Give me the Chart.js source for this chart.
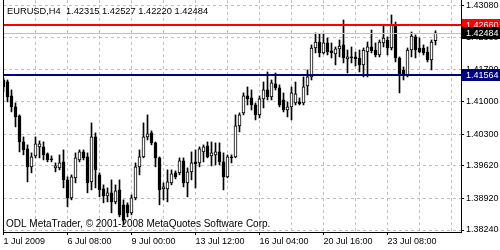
<!DOCTYPE html>
<html>
<head>
<meta charset="utf-8">
<script src="https://cdn.jsdelivr.net/npm/chart.js@4.4.0/dist/chart.umd.min.js"></script>
<style>
    html, body { margin: 0; padding: 0; background: #fff; }
</style>
</head>
<body>
<canvas id="eurusdChart" width="500" height="250"></canvas>
<script>
// EURUSD H4 candles, oldest first (1 Jul 20:00 .. 24 Jul)
const opens = [1.41468, 1.41425, 1.41124, 1.40888, 1.40694, 1.40135, 1.39985, 1.39598, 1.39834, 1.40028,
    1.40028, 1.39877, 1.39770, 1.39576, 1.39576, 1.39705, 1.39318, 1.38931, 1.39361, 1.39748,
    1.39920, 1.39813, 1.39275, 1.40243, 1.39426, 1.39125, 1.38974, 1.39039, 1.38845, 1.39103,
    1.38781, 1.38781, 1.38609, 1.38931, 1.39598, 1.39813, 1.40243, 1.40329, 1.40114, 1.39791,
    1.39125, 1.39125, 1.39254, 1.39469, 1.39469, 1.39727, 1.39254, 1.39490, 1.39705, 1.39684,
    1.39920, 1.40049, 1.39834, 1.39856, 1.39920, 1.39705, 1.39383, 1.39813, 1.39813, 1.40479,
    1.40759, 1.41124, 1.41081, 1.40931, 1.40716, 1.41060, 1.41253, 1.41103, 1.41382, 1.41296,
    1.41038, 1.40823, 1.40888, 1.40974, 1.40995, 1.40974, 1.41339, 1.41533, 1.42156, 1.42285,
    1.42049, 1.42264, 1.42092, 1.42027, 1.42135, 1.42221, 1.41920, 1.41963, 1.41963, 1.41941,
    1.41791, 1.42070, 1.42178, 1.42113, 1.42006, 1.42264, 1.42328, 1.42156, 1.42651, 1.41941,
    1.41683, 1.41576, 1.42113, 1.42393, 1.42156, 1.42156, 1.42070, 1.41898, 1.42315];
const highs = [1.41511, 1.41468, 1.41253, 1.40974, 1.40716, 1.40243, 1.40071, 1.39899, 1.40243, 1.40157,
    1.40135, 1.39899, 1.39834, 1.39684, 1.39856, 1.39963, 1.39383, 1.39426, 1.39899, 1.39963,
    1.39963, 1.39899, 1.40544, 1.40329, 1.39469, 1.39211, 1.39146, 1.39318, 1.39211, 1.39318,
    1.38888, 1.38824, 1.38996, 1.39684, 1.39963, 1.40544, 1.40716, 1.40372, 1.40135, 1.39813,
    1.39254, 1.39533, 1.39533, 1.39512, 1.39791, 1.39791, 1.39576, 1.39920, 1.39963, 1.40028,
    1.40071, 1.40135, 1.40135, 1.40114, 1.40114, 1.39899, 1.39856, 1.39856, 1.40716, 1.40759,
    1.41189, 1.41318, 1.41253, 1.40974, 1.41124, 1.41425, 1.41640, 1.41468, 1.41619, 1.41361,
    1.41189, 1.40995, 1.41318, 1.41425, 1.41081, 1.41533, 1.41683, 1.42221, 1.42479, 1.42457,
    1.42457, 1.42371, 1.42264, 1.42178, 1.42328, 1.42758, 1.42113, 1.42178, 1.42070, 1.42113,
    1.42156, 1.42285, 1.42543, 1.42264, 1.42328, 1.42651, 1.42393, 1.42866, 1.42715, 1.41963,
    1.41748, 1.42156, 1.42500, 1.42436, 1.42371, 1.42221, 1.42178, 1.42328, 1.42527];
const lows = [1.41210, 1.40995, 1.40780, 1.40458, 1.39920, 1.39856, 1.39275, 1.39469, 1.39791, 1.39791,
    1.39748, 1.39705, 1.39705, 1.39490, 1.39533, 1.39146, 1.38738, 1.38888, 1.39254, 1.39705,
    1.39748, 1.39039, 1.39103, 1.39146, 1.38953, 1.38824, 1.38845, 1.38609, 1.38802, 1.38523,
    1.38351, 1.38523, 1.38566, 1.38888, 1.39426, 1.39791, 1.40178, 1.40071, 1.39598, 1.38781,
    1.38888, 1.38845, 1.39211, 1.39340, 1.39426, 1.39168, 1.38953, 1.39318, 1.39146, 1.39598,
    1.39705, 1.39791, 1.39619, 1.39641, 1.39641, 1.39103, 1.39361, 1.39684, 1.39791, 1.40350,
    1.40716, 1.40931, 1.40823, 1.40608, 1.40651, 1.40866, 1.41038, 1.41038, 1.41253, 1.40888,
    1.40780, 1.40673, 1.40608, 1.40931, 1.40931, 1.40931, 1.41146, 1.41468, 1.42049, 1.41963,
    1.42027, 1.42006, 1.41941, 1.41791, 1.41963, 1.41834, 1.41619, 1.41834, 1.41769, 1.41640,
    1.41533, 1.41533, 1.42049, 1.41963, 1.41963, 1.42178, 1.42006, 1.42113, 1.41855, 1.41189,
    1.41468, 1.41533, 1.41963, 1.41941, 1.42049, 1.42006, 1.41855, 1.41683, 1.42220];
const closes = [1.41318, 1.41103, 1.40888, 1.40673, 1.40135, 1.39963, 1.39598, 1.39813, 1.40092, 1.40092,
    1.39856, 1.39748, 1.39748, 1.39619, 1.39684, 1.39318, 1.38931, 1.39383, 1.39791, 1.39920,
    1.39791, 1.39254, 1.40243, 1.39533, 1.39103, 1.38974, 1.39039, 1.38845, 1.39082, 1.38566,
    1.38458, 1.38609, 1.38931, 1.39598, 1.39813, 1.40243, 1.40307, 1.40114, 1.39791, 1.39103,
    1.39168, 1.39275, 1.39447, 1.39383, 1.39727, 1.39254, 1.39490, 1.39684, 1.39662, 1.39985,
    1.40028, 1.39813, 1.39899, 1.39920, 1.39705, 1.39383, 1.39813, 1.39791, 1.40479, 1.40716,
    1.41124, 1.41060, 1.40931, 1.40716, 1.41060, 1.41253, 1.41103, 1.41404, 1.41296, 1.40931,
    1.40823, 1.40888, 1.41189, 1.41167, 1.40952, 1.41318, 1.41533, 1.42156, 1.42285, 1.42049,
    1.42264, 1.42070, 1.42049, 1.42135, 1.42199, 1.41941, 1.41963, 1.41941, 1.41920, 1.41791,
    1.42113, 1.42178, 1.42092, 1.42006, 1.42285, 1.42371, 1.42156, 1.42651, 1.41941, 1.41576,
    1.41576, 1.42113, 1.42414, 1.42113, 1.42070, 1.42049, 1.41898, 1.42285, 1.42484];

// axis ticks
const priceTicks = [1.38240, 1.38920, 1.39620, 1.40300, 1.41000, 1.41700, 1.42380, 1.43080];
const gridBars = [0, 8, 16, 24, 32, 40, 48, 56, 64, 72, 80, 88, 96, 104, 112];
const labelBars = [0, 16, 32, 48, 64, 80, 96];
const timeLabels = ['1 Jul 2009', '6 Jul 08:00', '9 Jul 00:00', '13 Jul 12:00', '16 Jul 04:00', '20 Jul 16:00', '23 Jul 08:00'];

// horizontal lines drawn on the chart
const resistance = 1.42660;
const support = 1.41564;

const headerText = 'EURUSD,H4  1.42315 1.42527 1.42220 1.42484';
const footerText = 'ODL MetaTrader, \u00A9 2001-2008 MetaQuotes Software Corp.';

const FAMILY = '"Liberation Sans", Arial, sans-serif';
const FONT = '9px ' + FAMILY;
const GRID = '#c0c0c0';

document.addEventListener('DOMContentLoaded', function() {
    if (typeof Chart === 'undefined') {
        console.error('Chart.js is not loaded!');
        return;
    }

    const bodies = opens.map((o, i) => ({ x: i, y: [o, closes[i]] }));
    const wicks = opens.map((o, i) => ({ x: i, y: [lows[i], highs[i]] }));
    const bodyColors = opens.map((o, i) => closes[i] >= o ? '#ffffff' : '#000000');

    const hline = (chart, price, color, width) => {
        const { ctx, chartArea: a } = chart;
        const py = Math.round(chart.scales.y.getPixelForValue(price)) + (width % 2 ? 0.5 : 0);
        ctx.strokeStyle = color;
        ctx.lineWidth = width;
        ctx.beginPath();
        ctx.moveTo(a.left, py);
        ctx.lineTo(a.right, py);
        ctx.stroke();
    };

    const priceBox = (chart, price, bg) => {
        const { ctx, chartArea: a } = chart;
        const py = Math.round(chart.scales.y.getPixelForValue(price));
        ctx.fillStyle = bg;
        ctx.fillRect(a.right + 1, py - 6, 500 - a.right - 1, 12);
        ctx.fillStyle = '#ffffff';
        ctx.font = FONT;
        ctx.textBaseline = 'middle';
        ctx.textAlign = 'left';
        ctx.fillText(price.toFixed(5), a.right + 5, py + 0.5);
    };

    const overlay = {
        id: 'overlay',
        afterDatasetsDraw(chart) {
            const ctx = chart.ctx;
            ctx.save();
            hline(chart, closes[closes.length - 1], '#c0c0c0', 1);
            hline(chart, resistance, '#ff0000', 2);
            hline(chart, support, '#000080', 2);
            ctx.restore();
        },
        afterDraw(chart) {
            const { ctx, chartArea: a } = chart;
            ctx.save();
            // left frame line
            ctx.strokeStyle = '#000';
            ctx.lineWidth = 1;
            ctx.beginPath();
            ctx.moveTo(a.left + 0.5, a.top);
            ctx.lineTo(a.left + 0.5, a.bottom);
            ctx.stroke();

            priceBox(chart, resistance, '#ff0000');
            priceBox(chart, closes[closes.length - 1], '#000000');
            priceBox(chart, support, '#000080');

            ctx.fillStyle = '#000';
            ctx.textBaseline = 'middle';
            ctx.textAlign = 'left';
            ctx.font = '9.3px ' + FAMILY;
            ctx.fillText(headerText, 7, 11);
            ctx.font = '10px ' + FAMILY;
            ctx.fillText(footerText, 6, 224);
            ctx.restore();
        }
    };

    const canvas = document.getElementById('eurusdChart');
    new Chart(canvas.getContext('2d'), {
        type: 'bar',
        data: {
            datasets: [{
                // candle bodies
                data: bodies,
                backgroundColor: bodyColors,
                borderColor: '#000000',
                borderWidth: 1,
                borderSkipped: false,
                barThickness: 3,
                minBarLength: 1,
                grouped: false,
                order: 0
            }, {
                // high-low wicks
                data: wicks,
                backgroundColor: '#000000',
                borderWidth: 0,
                barThickness: 1,
                grouped: false,
                order: 1
            }]
        },
        options: {
            responsive: false,
            animation: false,
            events: [],
            layout: { padding: { left: 3, top: 0, right: 0, bottom: 0 } },
            plugins: {
                legend: { display: false },
                tooltip: { enabled: false }
            },
            scales: {
                x: {
                    type: 'linear',
                    offset: false,
                    min: -0.125,
                    max: 114.375,
                    afterBuildTicks: s => { s.ticks = gridBars.map(v => ({ value: v })); },
                    afterFit: s => { s.height = 18; s.paddingLeft = 0; s.paddingRight = 0; },
                    ticks: {
                        autoSkip: false,
                        maxRotation: 0,
                        align: 'start',
                        padding: 1,
                        color: '#000',
                        font: { family: FAMILY, size: 9 },
                        callback: v => {
                            const i = labelBars.indexOf(v);
                            return i >= 0 ? timeLabels[i] : '';
                        }
                    },
                    grid: {
                        offset: false,
                        color: GRID,
                        tickLength: 3,
                        tickColor: c => (c.tick && labelBars.includes(c.tick.value)) ? '#000' : 'rgba(0,0,0,0)'
                    },
                    border: { color: '#000', dash: [3, 3] }
                },
                y: {
                    position: 'right',
                    beginAtZero: false,
                    min: 1.38197,
                    max: 1.43188,
                    afterBuildTicks: s => { s.ticks = priceTicks.map(v => ({ value: v })); },
                    afterFit: s => { s.width = 39; s.paddingTop = 0; s.paddingBottom = 0; },
                    ticks: {
                        autoSkip: false,
                        padding: 2,
                        color: '#000',
                        font: { family: FAMILY, size: 9 },
                        callback: v => v.toFixed(5)
                    },
                    grid: {
                        color: GRID,
                        tickLength: 3,
                        tickColor: '#000'
                    },
                    border: { color: '#000', dash: [3, 3] }
                }
            }
        },
        plugins: [overlay]
    });
});
</script>
</body>
</html>
